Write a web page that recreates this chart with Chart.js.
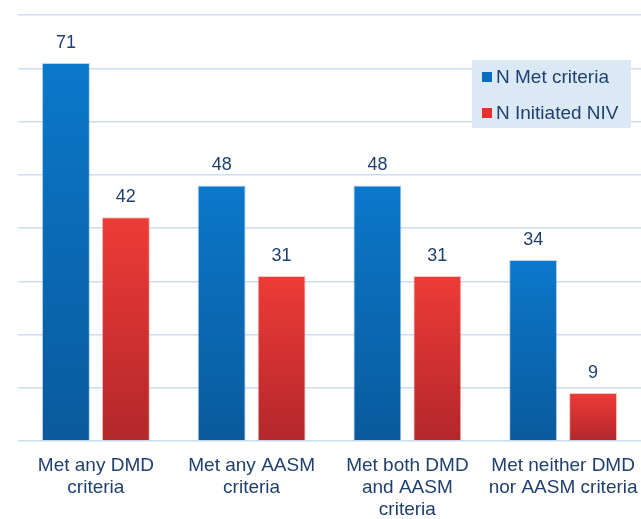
<!DOCTYPE html>
<html>
<head>
<meta charset="utf-8">
<script src="https://cdn.jsdelivr.net/npm/chart.js@4"></script>
<style>
  html, body { margin: 0; padding: 0; background: #fff; }
  #wrap { width: 641px; height: 519px; }
</style>
</head>
<body>
<div id="wrap"><canvas id="nivChart" width="641" height="519"></canvas></div>
<script>
// data
const categories = [
    ['Met any DMD', 'criteria'],
    ['Met any AASM', 'criteria'],
    ['Met both DMD', 'and AASM', 'criteria'],
    ['Met neither DMD', 'nor AASM criteria']
];
const metCriteria = [71, 48, 48, 34];
const initiatedNiv = [42, 31, 31, 9];
const seriesNames = ['N Met criteria', 'N Initiated NIV'];
const yMax = 80;
const yStep = 10;

const textColor = '#1f406e';
const fontFamily = 'Arial, "Liberation Sans", Helvetica, sans-serif';

// vertical gradient per bar, bright at top, darker at base
function barGradient(top, bottom) {
    return function (context) {
        const chart = context.chart;
        const y = chart.scales.y;
        if (!chart.chartArea || !y) return top;
        const v = context.raw;
        const y0 = y.getPixelForValue(v);
        const y1 = y.getPixelForValue(0);
        const g = chart.ctx.createLinearGradient(0, y0, 0, y1);
        g.addColorStop(0, top);
        g.addColorStop(1, bottom);
        return g;
    };
}

// values above bars
const valueLabels = {
    id: 'valueLabels',
    afterDatasetsDraw(chart) {
        const ctx = chart.ctx;
        ctx.save();
        ctx.font = '18px ' + fontFamily;
        ctx.fillStyle = textColor;
        ctx.textAlign = 'center';
        ctx.textBaseline = 'middle';
        chart.data.datasets.forEach((ds, i) => {
            chart.getDatasetMeta(i).data.forEach((bar, j) => {
                ctx.fillText(ds.data[j], bar.x, bar.y - 20);
            });
        });
        ctx.restore();
    }
};

// legend box top right
const boxLegend = {
    id: 'boxLegend',
    afterDraw(chart) {
        const ctx = chart.ctx;
        const x = 472, y = 60, w = 159, h = 68;
        ctx.save();
        ctx.fillStyle = '#dbe9f6';
        ctx.fillRect(x, y, w, h);
        ctx.font = '19px ' + fontFamily;
        ctx.textBaseline = 'middle';
        const swatch = ['#0a6cbc', '#e2332f'];
        chart.data.datasets.forEach((ds, i) => {
            const cy = y + 17 + i * 36;
            ctx.fillStyle = swatch[i];
            ctx.fillRect(x + 10, cy - 5, 10, 10);
            ctx.fillStyle = textColor;
            ctx.fillText(ds.label, x + 24, cy + 1);
        });
        ctx.restore();
    }
};

const ctx = document.getElementById('nivChart').getContext('2d');
const nivChart = new Chart(ctx, {
    type: 'bar',
    data: {
        labels: categories,
        datasets: [{
            label: seriesNames[0],
            data: metCriteria,
            backgroundColor: barGradient('#0b78cc', '#0a5a9c'),
            borderColor: 'rgba(120,170,220,0.5)',
            borderWidth: 1,
            categoryPercentage: 0.77,
            barPercentage: 0.8
        }, {
            label: seriesNames[1],
            data: initiatedNiv,
            backgroundColor: barGradient('#ee3b37', '#b3272a'),
            borderColor: 'rgba(240,140,140,0.5)',
            borderWidth: 1,
            categoryPercentage: 0.77,
            barPercentage: 0.8
        }]
    },
    options: {
        responsive: false,
        animation: false,
        layout: { padding: { top: 15, right: 0, left: 0, bottom: 0 } },
        plugins: {
            legend: { display: false },
            tooltip: { enabled: false }
        },
        scales: {
            x: {
                grid: { display: false, drawTicks: false },
                border: { display: false },
                ticks: {
                    color: textColor,
                    font: { size: 19, family: fontFamily, lineHeight: 1.15 },
                    padding: 14,
                    maxRotation: 0,
                    autoSkip: false
                },
                afterFit(scale) {
                    scale.height = 78;
                    // labels may run to the edge, keep plot width fixed
                    scale.paddingLeft = 0;
                    scale.paddingRight = 0;
                }
            },
            y: {
                min: 0,
                max: yMax,
                ticks: { display: false, stepSize: yStep },
                grid: { color: '#c9def2', lineWidth: 1.5, drawTicks: false },
                border: { display: false },
                afterFit(scale) { scale.width = 18; }
            }
        }
    },
    plugins: [valueLabels, boxLegend]
});
</script>
</body>
</html>
